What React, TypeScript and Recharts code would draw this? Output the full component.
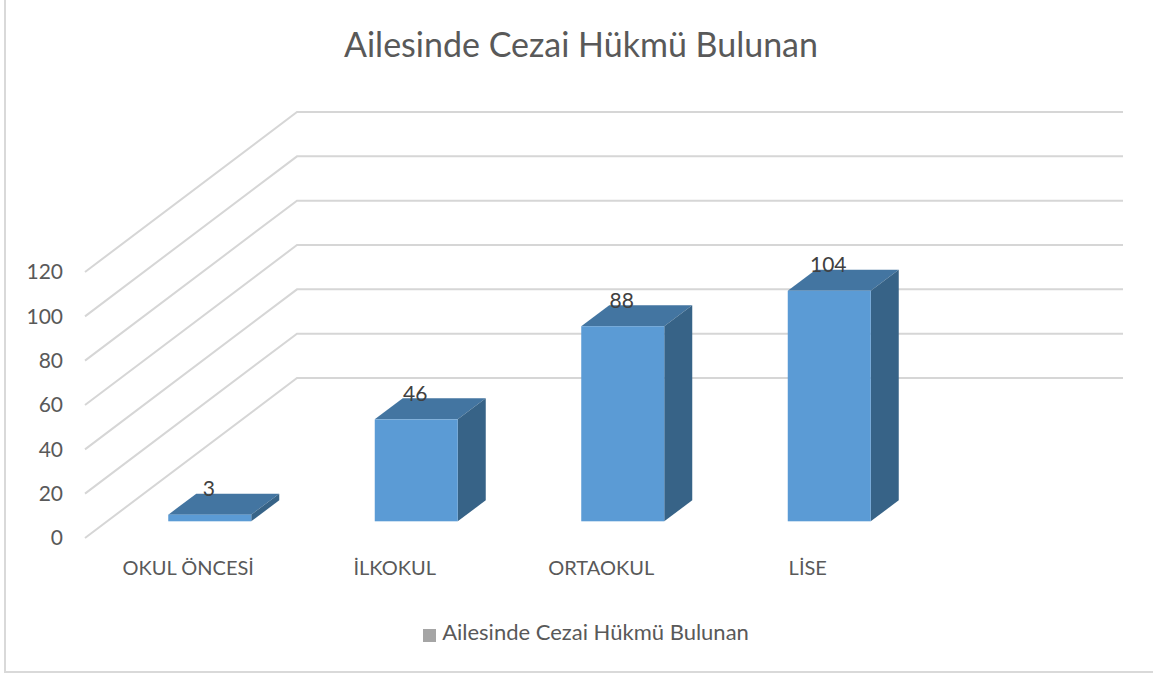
import { BarChart, Bar, XAxis, YAxis, CartesianGrid, Legend, LabelList } from "recharts";

const categories = ["OKUL ÖNCESİ", "İLKOKUL", "ORTAOKUL", "LİSE"];
const values = [3, 46, 88, 104];
const yTicks = [0, 20, 40, 60, 80, 100, 120];
const seriesName = "Ailesinde Cezai Hükmü Bulunan";

const data = categories.map((name, i) => ({ name, value: values[i] }));

const FONT = "Lato, sans-serif";
const GREY = "#595959";

// depth of the floor, back wall sits this far behind the axis plane
const WALL_DX = 212;
const WALL_DY = 160;
// bars stand part way into the floor
const BAR_DX = 21.3;
const BAR_DY = 16.7;
// depth of each box
const BOX_DX = 28;
const BOX_DY = 21;

const GridLine = (props: any) => {
  const { x1, y1, x2 } = props;
  const bx = x1 + WALL_DX;
  const by = y1 - WALL_DY;
  return (
    <polyline
      key={props.key}
      points={`${x1},${y1} ${bx},${by} ${x2 + WALL_DX},${by}`}
      fill="none"
      stroke="#d6d6d6"
      strokeWidth={2}
    />
  );
};

const Box = (props: any) => {
  const { x, y, width, height } = props;
  const l = x + BAR_DX;
  const r = l + width;
  const t = y - BAR_DY;
  const b = t + height;
  return (
    <g>
      <polygon
        points={`${l},${t} ${l + BOX_DX},${t - BOX_DY} ${r + BOX_DX},${t - BOX_DY} ${r},${t}`}
        fill="#4375a1"
      />
      <polygon
        points={`${r},${t} ${r + BOX_DX},${t - BOX_DY} ${r + BOX_DX},${b - BOX_DY} ${r},${b}`}
        fill="#376387"
      />
      <rect x={l} y={t} width={width} height={height} fill="#5b9bd5" />
    </g>
  );
};

const BoxLabel = (props: any) => {
  const { x, y, width, value } = props;
  return (
    <text
      x={x + BAR_DX + width / 2 - 1}
      y={y - BAR_DY - 27}
      textAnchor="middle"
      dominantBaseline="central"
      fontFamily={FONT}
      fontSize={21}
      fill="#404040"
    >
      {value}
    </text>
  );
};

export default function App() {
  return (
    <div style={{ position: "absolute", left: 0, top: 0, width: 1153, height: 677, background: "#fff" }}>
      <div
        style={{
          position: "absolute",
          left: 4,
          top: 0,
          width: 1149,
          height: 671,
          borderLeft: "2px solid #d9d9d9",
          borderBottom: "2px solid #d9d9d9",
        }}
      />
      <BarChart
        width={1153}
        height={677}
        data={data}
        barCategoryGap="30%"
        margin={{ top: 272, right: 242, bottom: 99, left: 25 }}
        style={{ fontFamily: FONT }}
      >
        <text x={581} y={43} textAnchor="middle" dominantBaseline="central" fontFamily={FONT} fontSize={34} fill={GREY}>
          {seriesName}
        </text>
        <CartesianGrid vertical={false} horizontal={GridLine} syncWithTicks />
        <XAxis
          dataKey="name"
          height={40}
          axisLine={false}
          tickLine={false}
          tickMargin={17}
          interval={0}
          tick={{ fill: GREY, fontSize: 20, fontFamily: FONT }}
        />
        <YAxis
          width={60}
          domain={[0, 120]}
          ticks={yTicks}
          axisLine={false}
          tickLine={false}
          tickMargin={16}
          tick={{ fill: GREY, fontSize: 21, fontFamily: FONT }}
        />
        <Legend
          verticalAlign="middle"
          iconType="square"
          iconSize={13}
          wrapperStyle={{ top: 618, left: 421, width: 340, height: 30 }}
          formatter={(v: string) => (
            <span style={{ color: GREY, fontSize: 22, fontFamily: FONT, marginLeft: 2 }}>{v}</span>
          )}
        />
        <Bar dataKey="value" name={seriesName} fill="#a5a5a5" shape={Box} isAnimationActive={false}>
          <LabelList dataKey="value" content={BoxLabel} />
        </Bar>
      </BarChart>
    </div>
  );
}
